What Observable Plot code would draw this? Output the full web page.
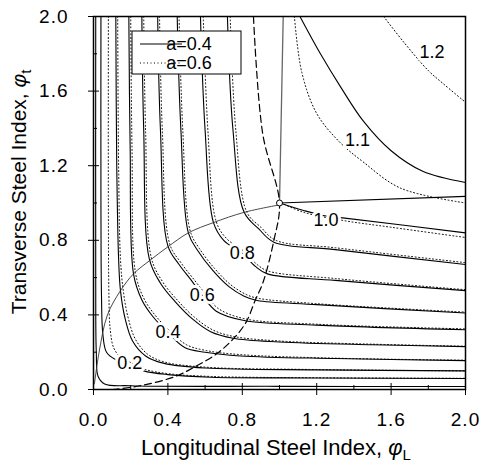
<!DOCTYPE html>
<html><head><meta charset="utf-8">
<script src="https://cdn.jsdelivr.net/npm/d3@7"></script>
<script src="https://cdn.jsdelivr.net/npm/@observablehq/plot@0.6"></script>
<style>body{margin:0;background:#fff}</style>
</head><body><div id="chart"></div>
<script>
// tick values
const xTicks = [0, 0.4, 0.8, 1.2, 1.6, 2.0];
const yTicks = [0, 0.4, 0.8, 1.2, 1.6, 2.0];
const minorTicks = [0.2, 0.6, 1.0, 1.4, 1.8];

// a = 0.4 contours (solid), [phiL, phiT]
const c01 = [[0.012,2],[0.012,0.6],[0.015,0.2],[0.025,0.07],[0.06,0.03],[0.2,0.02],[1,0.017],[2,0.016]];
const c02 = [[0.04,2],[0.04,1],[0.043,0.5],[0.05,0.3],[0.07,0.2],[0.12,0.16],[0.19,0.135],[0.27,0.1],[0.4,0.08],[0.63,0.066],[1.2,0.062],[2,0.059]];
const c03 = [[0.12,2],[0.125,1.2],[0.135,0.7],[0.145,0.53],[0.17,0.38],[0.21,0.26],[0.28,0.18],[0.38,0.14],[0.6,0.115],[1.2,0.105],[2,0.1]];
const c04 = [[0.19,2],[0.197,1.3],[0.215,0.62],[0.26,0.48],[0.32,0.39],[0.4,0.305],[0.49,0.225],[0.6,0.2],[0.79,0.18],[1.3,0.166],[2,0.155]];
const c05 = [[0.26,2],[0.27,1.39],[0.3,0.7],[0.36,0.57],[0.44,0.47],[0.53,0.38],[0.63,0.31],[0.75,0.275],[1,0.255],[1.5,0.24],[2,0.23]];
const c06 = [[0.345,2],[0.36,1.39],[0.4,0.77],[0.46,0.67],[0.53,0.58],[0.585,0.505],[0.66,0.42],[0.81,0.37],[1.2,0.345],[2,0.32]];
const c07 = [[0.45,2],[0.47,1.39],[0.51,0.84],[0.56,0.745],[0.64,0.64],[0.73,0.55],[0.81,0.5],[0.88,0.477],[1.2,0.455],[2,0.41]];
const c08 = [[0.575,2],[0.6,1.39],[0.645,0.895],[0.7,0.8],[0.8,0.73],[0.87,0.66],[0.935,0.62],[1.3,0.585],[2,0.53]];
const c09 = [[0.72,2],[0.75,1.39],[0.81,0.95],[0.89,0.86],[0.97,0.79],[1.3,0.75],[2,0.67]];
const c10top = [[1.02,2],[1,1]];
const c10 = [[1,1],[1.13,0.96],[1.25,0.93],[1.34,0.92],[2,0.84]];
const c11 = [[1.11,2],[1.22,1.8],[1.33,1.62],[1.45,1.44],[1.6,1.28],[1.77,1.17],[2,1.11]];

// a = 0.6 contours (dotted)
const d02 = [[0.08,2],[0.08,1],[0.083,0.5],[0.09,0.32],[0.11,0.22],[0.15,0.17],[0.2,0.145],[0.27,0.11],[0.4,0.085],[0.63,0.07],[1.2,0.063],[2,0.06]];
const d03 = [[0.13,2],[0.135,1.2],[0.145,0.7],[0.16,0.53],[0.185,0.39],[0.225,0.27],[0.29,0.19],[0.38,0.148],[0.6,0.12],[1.2,0.107],[2,0.1]];
const d04 = [[0.2,2],[0.207,1.3],[0.225,0.63],[0.27,0.49],[0.33,0.4],[0.41,0.315],[0.5,0.24],[0.6,0.21],[0.79,0.187],[1.3,0.168],[2,0.157]];
const d05 = [[0.27,2],[0.28,1.39],[0.31,0.71],[0.37,0.58],[0.45,0.48],[0.54,0.39],[0.64,0.32],[0.75,0.285],[1,0.26],[1.5,0.243],[2,0.232]];
const d06 = [[0.355,2],[0.37,1.39],[0.41,0.78],[0.47,0.68],[0.54,0.59],[0.6,0.515],[0.67,0.435],[0.81,0.38],[1.2,0.35],[2,0.325]];
const d07 = [[0.46,2],[0.48,1.39],[0.52,0.85],[0.57,0.755],[0.65,0.65],[0.74,0.56],[0.82,0.51],[0.88,0.49],[1.2,0.46],[2,0.415]];
const d08 = [[0.59,2],[0.615,1.39],[0.66,0.9],[0.715,0.81],[0.81,0.74],[0.88,0.67],[0.94,0.635],[1.3,0.595],[2,0.535]];
const d09 = [[0.735,2],[0.765,1.39],[0.825,0.95],[0.9,0.87],[0.98,0.8],[1.3,0.76],[2,0.68]];
const d10 = [[1.01,1],[1.13,0.95],[1.35,0.905],[1.6,0.87],[2,0.815]];
const d11 = [[1.08,2],[1.12,1.7],[1.2,1.48],[1.32,1.33],[1.45,1.22],[1.65,1.08],[2,1.0]];
const d12 = [[1.56,2],[1.67,1.86],[1.8,1.71],[1.88,1.64],[2,1.54]];

// boundary curves
const bndH = [[1,1],[2,1.035]];
const bndDash = [[0.86,2],[0.91,1.37],[1,1],[0.97,0.8],[0.91,0.57],[0.87,0.48],[0.82,0.36],[0.75,0.27],[0.66,0.19],[0.56,0.13],[0.44,0.07],[0.25,0.02],[0.1,0]];
const bndEll = [[0.005,0.03],[0.03,0.2],[0.075,0.4],[0.145,0.53],[0.215,0.62],[0.3,0.69],[0.4,0.765],[0.51,0.84],[0.645,0.895],[0.81,0.95],[1,0.99]];
const balancePt = [[1,1]];

// contour labels
const labelText = ["0.2","0.4","0.6","0.8","1.0","1.1","1.2"];
const labelX = [0.195,0.40,0.585,0.80,1.25,1.42,1.82];
const labelY = [0.14,0.305,0.505,0.73,0.905,1.335,1.81];

const solid = [c01,c02,c03,c04,c05,c06,c07,c08,c09,c10,c11];
const dotted = [d02,d03,d04,d05,d06,d07,d08,d09,d10,d11,d12];
const labels = labelText.map((t,i)=>({t, x:labelX[i], y:labelY[i]}));
const font = "'Liberation Sans', Arial, sans-serif";

const chart = Plot.plot({
  width: 479, height: 466,
  marginLeft: 93, marginRight: 14, marginTop: 16, marginBottom: 77,
  x: {domain: [0, 2]},
  y: {domain: [0, 2]},
  style: {fontFamily: font, background: "white", color: "black"},
  marks: [
    ...solid.map(c => Plot.line(c, {x: d=>d[0], y: d=>d[1], stroke: "black", strokeWidth: 1.1, curve: "catmull-rom"})),
    ...dotted.map(c => Plot.line(c, {x: d=>d[0], y: d=>d[1], stroke: "black", strokeWidth: 1, strokeDasharray: "1,2.5", curve: "catmull-rom"})),
    Plot.line(c10top, {x: d=>d[0], y: d=>d[1], stroke: "#666", strokeWidth: 1.3}),
    Plot.line(bndH, {x: d=>d[0], y: d=>d[1], stroke: "black", strokeWidth: 1.2}),
    Plot.line(bndDash, {x: d=>d[0], y: d=>d[1], stroke: "black", strokeWidth: 1.2, strokeDasharray: "7,4", curve: "catmull-rom"}),
    Plot.line(bndEll, {x: d=>d[0], y: d=>d[1], stroke: "#333", strokeWidth: 0.9, curve: "catmull-rom"}),
    Plot.dot(balancePt, {x: d=>d[0], y: d=>d[1], r: 3, stroke: "black", fill: "white", strokeWidth: 1}),
    Plot.text(labels, {x: "x", y: "y", text: "t", fontSize: 18, fill: "black", stroke: "white", strokeWidth: 6, fontFamily: font}),
    Plot.frame({stroke: "black", strokeWidth: 1.5}),
    Plot.axisX({ticks: xTicks, tickFormat: d3.format(".1f"), tickSize: 6, tickPadding: 17, label: null, fontSize: 19}),
    Plot.axisX({ticks: xTicks, tickSize: 6, dy: -6, text: null, label: null}),
    Plot.axisX({ticks: minorTicks, tickSize: 4, dy: -4, text: null, label: null}),
    Plot.axisY({ticks: yTicks, tickFormat: d3.format(".1f"), tickSize: 5, tickPadding: 20, label: null, fontSize: 19}),
    Plot.axisY({ticks: yTicks, tickSize: 6, dx: 6, text: null, label: null}),
    Plot.axisY({ticks: minorTicks, tickSize: 4, dx: 4, text: null, label: null})
  ]
});
document.getElementById("chart").appendChild(chart);

const svg = d3.select(chart);
svg.selectAll("g[aria-label='x-axis tick label'] text, g[aria-label='y-axis tick label'] text").style("letter-spacing", "1px");
// axis titles
const xt = svg.append("text").attr("x", 276).attr("y", 455).attr("text-anchor", "middle")
  .style("font-family", font).style("font-size", "22px").attr("fill", "black");
xt.append("tspan").text("Longitudinal Steel Index, ");
xt.append("tspan").text("φ").style("font-style", "italic");
xt.append("tspan").text("L").attr("dy", 5).style("font-size", "15px");

const yt = svg.append("text").attr("transform", "translate(26,192) rotate(-90)").attr("text-anchor", "middle")
  .style("font-family", font).style("font-size", "21px").attr("fill", "black");
yt.append("tspan").text("Transverse Steel Index, ");
yt.append("tspan").text("φ").style("font-style", "italic");
yt.append("tspan").text("t").attr("dy", 5).style("font-size", "15px");

// legend
const lg = svg.append("g");
lg.append("rect").attr("x", 132).attr("y", 31).attr("width", 109).attr("height", 43)
  .attr("fill", "white").attr("stroke", "black").attr("stroke-width", 1);
lg.append("line").attr("x1", 140).attr("x2", 182).attr("y1", 44).attr("y2", 44).attr("stroke", "black").attr("stroke-width", 1);
lg.append("line").attr("x1", 140).attr("x2", 182).attr("y1", 63).attr("y2", 63).attr("stroke", "black").attr("stroke-width", 1).attr("stroke-dasharray", "1,2.5");
lg.append("text").attr("x", 189).attr("y", 50).text("a=0.4").style("font-family", font).style("font-size", "18px");
lg.append("text").attr("x", 189).attr("y", 69).text("a=0.6").style("font-family", font).style("font-size", "18px");
</script>
</body></html>
